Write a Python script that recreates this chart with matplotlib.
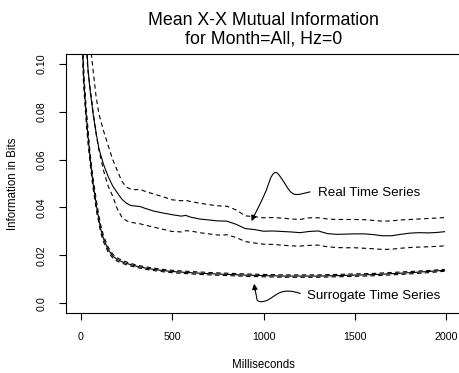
import numpy as np
import matplotlib
matplotlib.use('Agg')
import matplotlib.pyplot as plt

plt.rcParams['font.family'] = ['Liberation Sans', 'DejaVu Sans']

# real time series (mean and dashed bands)
real_ms = [20, 30, 40, 50, 60, 70, 85, 100, 125, 150, 175, 200, 225, 250, 275, 300,
           325, 350, 400, 450, 500, 550, 575, 600, 650, 700, 750, 800, 850, 900, 950,
           1000, 1050, 1100, 1150, 1200, 1250, 1300, 1350, 1400, 1450, 1500, 1550,
           1600, 1650, 1700, 1750, 1800, 1850, 1900, 1950, 1990]
real_mean = [0.140, 0.112, 0.098, 0.090, 0.084, 0.078, 0.071, 0.0645, 0.058, 0.053,
             0.049, 0.0462, 0.0435, 0.0418, 0.0408, 0.0406, 0.0404, 0.0397, 0.0385,
             0.0377, 0.0370, 0.0364, 0.0367, 0.0360, 0.0352, 0.0348, 0.0344, 0.0343,
             0.0330, 0.0312, 0.0308, 0.0301, 0.0302, 0.0300, 0.0298, 0.0295, 0.0300,
             0.0302, 0.0291, 0.0288, 0.0289, 0.0290, 0.0290, 0.0287, 0.0282, 0.0282,
             0.0288, 0.0293, 0.0295, 0.0294, 0.0296, 0.0299]
real_upper = [0.200, 0.150, 0.125, 0.112, 0.103, 0.096, 0.086, 0.079, 0.072, 0.066,
              0.060, 0.0555, 0.0510, 0.0485, 0.0476, 0.0474, 0.0476, 0.0468, 0.0456,
              0.0445, 0.0432, 0.0428, 0.0430, 0.0425, 0.0418, 0.0412, 0.0407, 0.0405,
              0.0390, 0.0365, 0.0362, 0.0357, 0.0358, 0.0356, 0.0352, 0.0350, 0.0357,
              0.0357, 0.0352, 0.0350, 0.0350, 0.0350, 0.0349, 0.0346, 0.0343, 0.0344,
              0.0348, 0.0350, 0.0352, 0.0354, 0.0356, 0.0358]
real_lower = [0.120, 0.108, 0.097, 0.091, 0.085, 0.079, 0.0705, 0.064, 0.0555, 0.049,
              0.0448, 0.0395, 0.0360, 0.0345, 0.0338, 0.0335, 0.0332, 0.0327, 0.0318,
              0.0309, 0.0300, 0.0298, 0.0303, 0.0302, 0.0295, 0.0290, 0.0285, 0.0286,
              0.0275, 0.0258, 0.0252, 0.0247, 0.0246, 0.0243, 0.0240, 0.0239, 0.0242,
              0.0243, 0.0236, 0.0233, 0.0232, 0.0232, 0.0230, 0.0228, 0.0225, 0.0226,
              0.0230, 0.0233, 0.0235, 0.0236, 0.0238, 0.0240]

# surrogate time series
surr_ms = [5, 10, 15, 20, 30, 40, 50, 60, 70, 80, 90, 100, 110, 125, 150, 175, 200,
           225, 250, 300, 350, 400, 450, 500, 600, 700, 800, 900, 1000, 1100, 1200,
           1300, 1400, 1500, 1600, 1700, 1800, 1900, 1990]
surr_mean = [0.130, 0.110, 0.097, 0.090, 0.079, 0.070, 0.062, 0.055, 0.049, 0.044,
             0.039, 0.035, 0.031, 0.027, 0.0225, 0.0198, 0.0183, 0.0174, 0.0167,
             0.0156, 0.0148, 0.0142, 0.0137, 0.0133, 0.0128, 0.0124, 0.0121, 0.0118,
             0.0116, 0.0114, 0.0114, 0.0114, 0.0116, 0.0118, 0.0120, 0.0124, 0.0128,
             0.0133, 0.0138]
surr_upper = [0.134, 0.114, 0.101, 0.093, 0.082, 0.073, 0.064, 0.057, 0.051, 0.046,
              0.041, 0.0365, 0.0325, 0.0283, 0.0235, 0.0206, 0.0190, 0.0180, 0.0173,
              0.0161, 0.0153, 0.0147, 0.0142, 0.0138, 0.0133, 0.0129, 0.0126, 0.0123,
              0.0121, 0.0119, 0.0119, 0.0119, 0.0121, 0.0123, 0.0125, 0.0129, 0.0133,
              0.0137, 0.0142]
surr_lower = [0.126, 0.106, 0.093, 0.087, 0.076, 0.067, 0.060, 0.053, 0.047, 0.042,
              0.037, 0.0335, 0.0295, 0.0257, 0.0215, 0.0190, 0.0176, 0.0168, 0.0161,
              0.0151, 0.0143, 0.0137, 0.0132, 0.0128, 0.0123, 0.0119, 0.0116, 0.0113,
              0.0111, 0.0109, 0.0109, 0.0109, 0.0111, 0.0113, 0.0115, 0.0119, 0.0123,
              0.0128, 0.0134]

x_ticks = [0, 500, 1000, 1500, 2000]
y_ticks = [0.0, 0.02, 0.04, 0.06, 0.08, 0.10]
y_ticklabels = ['0.0', '0.02', '0.04', '0.06', '0.08', '0.10']


def smooth(pts, n=16):
    # catmull-rom through the hand-drawn annotation points
    p = np.asarray(pts, float)
    p = np.vstack([p[0], p, p[-1]])
    out = []
    t = np.linspace(0, 1, n)[:, None]
    for i in range(1, len(p) - 2):
        p0, p1, p2, p3 = p[i - 1], p[i], p[i + 1], p[i + 2]
        seg = 0.5 * ((2 * p1) + (-p0 + p2) * t + (2 * p0 - 5 * p1 + 4 * p2 - p3) * t ** 2
                     + (-p0 + 3 * p1 - 3 * p2 + p3) * t ** 3)
        out.append(seg)
    return np.vstack(out)


W, H = 459, 373
fig = plt.figure(figsize=(W / 100, H / 100), dpi=100)
ax = fig.add_axes([66 / W, (H - 313) / H, (461 - 66) / W, (313 - 54) / H])

lw = 0.8
ax.plot(real_ms, real_mean, color='black', lw=lw)
ax.plot(real_ms, real_upper, color='black', lw=lw, dashes=(4, 3))
ax.plot(real_ms, real_lower, color='black', lw=lw, dashes=(4, 3))
ax.plot(surr_ms, surr_mean, color='black', lw=lw)
ax.plot(surr_ms, surr_upper, color='black', lw=lw, dashes=(4, 3))
ax.plot(surr_ms, surr_lower, color='black', lw=lw, dashes=(4, 3))

ax.set_xlim(-80, 2080)
ax.set_ylim(-0.004, 0.104)
ax.set_xticks(x_ticks)
ax.set_yticks(y_ticks)
ax.set_yticklabels(y_ticklabels)
ax.tick_params(direction='out', length=5, width=0.8, labelsize=7.7, colors='black')
ax.tick_params(axis='x', pad=8.5)
ax.tick_params(axis='y', pad=9)
plt.setp(ax.get_yticklabels(), rotation=90, va='center')
for s in ax.spines.values():
    s.set_linewidth(0.8)

# curly annotation arrows
real_arrow = smooth([(1254, 0.0465), (1181, 0.0454), (1145, 0.0468), (1108, 0.0510),
                     (1072, 0.0545), (1044, 0.0530), (1017, 0.0475), (980, 0.0413),
                     (940, 0.0352)])
ax.plot(real_arrow[:, 0], real_arrow[:, 1], color='black', lw=0.8)
ax.annotate('', xy=(935, 0.0343), xytext=(950, 0.0370),
            arrowprops=dict(arrowstyle='-|>', color='black', lw=0.8, mutation_scale=8,
                            shrinkA=0, shrinkB=0))
ax.text(1298, 0.0462, 'Real Time Series', fontsize=9.6, va='center', ha='left')

surr_arrow = smooth([(1200, 0.0042), (1145, 0.0051), (1090, 0.0045), (1017, 0.0012),
                     (971, 0.0010), (960, 0.0035), (952, 0.0070)])
ax.plot(surr_arrow[:, 0], surr_arrow[:, 1], color='black', lw=0.8)
ax.annotate('', xy=(949, 0.0082), xytext=(953, 0.0055),
            arrowprops=dict(arrowstyle='-|>', color='black', lw=0.8, mutation_scale=8,
                            shrinkA=0, shrinkB=0))
ax.text(1238, 0.0030, 'Surrogate Time Series', fontsize=9.6, va='center', ha='left')

cx = 263.5 / W
fig.text(cx, (H - 25) / H, 'Mean X-X Mutual Information', ha='center', va='baseline',
         fontsize=12.8)
fig.text(cx, (H - 44) / H, 'for Month=All, Hz=0', ha='center', va='baseline',
         fontsize=12.8)
fig.text(cx, (H - 365) / H, 'Milliseconds', ha='center', va='center', fontsize=8.3)
fig.text(13 / W, (H - 183.5) / H, 'Information in Bits', ha='center', va='center',
         rotation=90, fontsize=8.3)

fig.savefig('out.png', dpi=100)
